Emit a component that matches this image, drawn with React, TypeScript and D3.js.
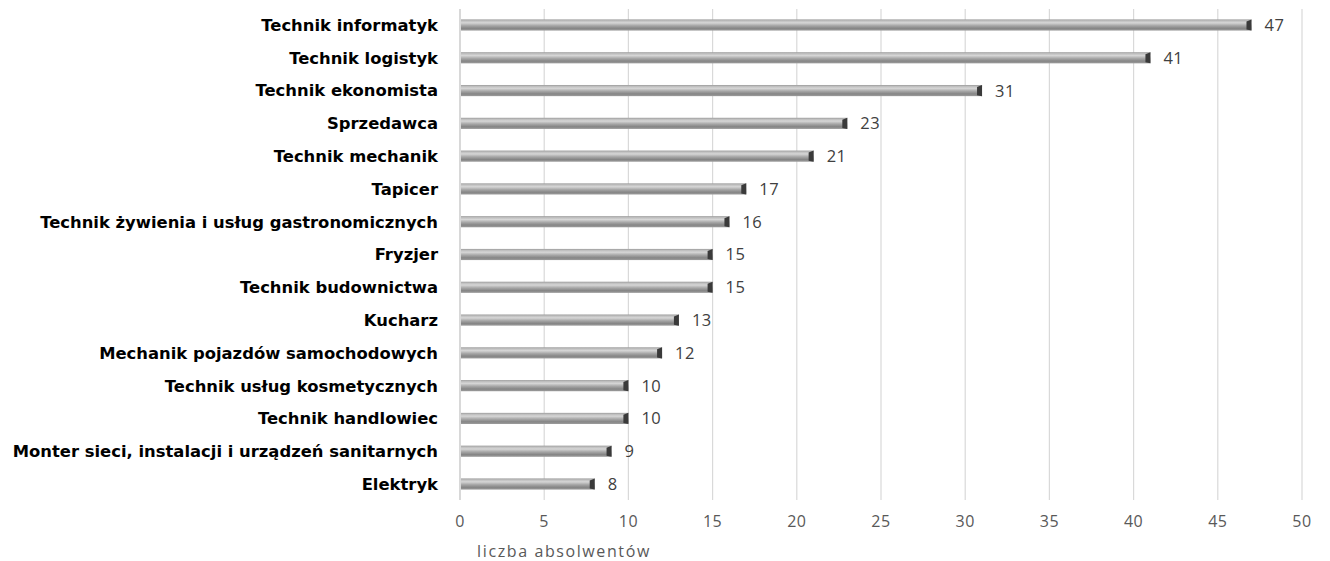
import React, { useEffect, useRef } from 'react';
import * as d3 from 'd3';

const categories = [
  'Technik informatyk',
  'Technik logistyk',
  'Technik ekonomista',
  'Sprzedawca',
  'Technik mechanik',
  'Tapicer',
  'Technik żywienia i usług gastronomicznych',
  'Fryzjer',
  'Technik budownictwa',
  'Kucharz',
  'Mechanik pojazdów samochodowych',
  'Technik usług kosmetycznych',
  'Technik handlowiec',
  'Monter sieci, instalacji i urządzeń sanitarnych',
  'Elektryk',
];
const values = [47, 41, 31, 23, 21, 17, 16, 15, 15, 13, 12, 10, 10, 9, 8];
const xTicks = [0, 5, 10, 15, 20, 25, 30, 35, 40, 45, 50];
const axisTitle = 'liczba absolwentów';

const W = 1330;
const H = 561;

const App: React.FC = () => {
  const svgRef = useRef<SVGSVGElement>(null);

  useEffect(() => {
    if (!svgRef.current) return;
    const svg = d3.select(svgRef.current);
    svg.selectAll('*').remove();

    const x = d3.scaleLinear().domain([0, 50]).range([460, 1302]);
    const y = d3.scaleBand<string>().domain(categories).range([8.6, 500.4]).paddingInner(0.66).paddingOuter(0.33);

    const defs = svg.append('defs');
    const grad = defs.append('linearGradient')
      .attr('id', 'barGrad')
      .attr('x1', 0).attr('y1', 0).attr('x2', 0).attr('y2', 1);
    [
      ['0%', '#9a9a9a'],
      ['12%', '#bdbdbd'],
      ['30%', '#d6d6d6'],
      ['55%', '#a8a8a8'],
      ['80%', '#858585'],
      ['100%', '#9c9c9c'],
    ].forEach(([o, c]) => grad.append('stop').attr('offset', o).attr('stop-color', c));

    // gridlines
    svg.append('g')
      .selectAll('line')
      .data(xTicks)
      .join('line')
      .attr('x1', d => x(d)).attr('x2', d => x(d))
      .attr('y1', 9).attr('y2', 500)
      .attr('stroke', d => (d === 0 ? '#bfbfbf' : '#d9d9d9'))
      .attr('stroke-width', 1.2);

    // tick labels
    svg.append('g')
      .selectAll('text')
      .data(xTicks)
      .join('text')
      .attr('x', d => x(d))
      .attr('y', 527)
      .attr('text-anchor', 'middle')
      .attr('font-family', 'Open Sans, sans-serif')
      .attr('font-size', 16)
      .attr('letter-spacing', 0.5)
      .attr('fill', '#595959')
      .text(d => d);

    svg.append('text')
      .attr('x', 564)
      .attr('y', 557)
      .attr('text-anchor', 'middle')
      .attr('font-family', 'Open Sans, sans-serif')
      .attr('font-size', 16)
      .attr('letter-spacing', 1.6)
      .attr('fill', '#595959')
      .text(axisTitle);

    const bw = y.bandwidth();
    const bars = svg.append('g')
      .selectAll('g')
      .data(categories)
      .join('g');

    bars.append('rect')
      .attr('x', x(0) + 1)
      .attr('y', d => y(d)!)
      .attr('width', (d, i) => x(values[i]) - x(0) - 1)
      .attr('height', bw)
      .attr('fill', 'url(#barGrad)');

    // dark end cap
    bars.append('path')
      .attr('d', (d, i) => {
        const xe = x(values[i]);
        const y0 = y(d)!;
        return `M${xe - 5},${y0 + 2}L${xe},${y0}L${xe},${y0 + bw}L${xe - 5},${y0 + bw - 1}Z`;
      })
      .attr('fill', '#3a3a3a');

    bars.append('text')
      .attr('x', (d, i) => x(values[i]) + 13)
      .attr('y', d => y(d)! + bw / 2)
      .attr('dy', '0.36em')
      .attr('font-family', 'Open Sans, sans-serif')
      .attr('font-size', 16.5)
      .attr('letter-spacing', 0.5)
      .attr('fill', '#404040')
      .text((d, i) => values[i]);

    // category labels
    svg.append('g')
      .selectAll('text')
      .data(categories)
      .join('text')
      .attr('x', 438)
      .attr('y', d => y(d)! + bw / 2)
      .attr('dy', '0.36em')
      .attr('text-anchor', 'end')
      .attr('font-family', 'DejaVu Sans, sans-serif')
      .attr('font-weight', 'bold')
      .attr('font-size', 16.4)
      .attr('fill', '#000')
      .text(d => d);
  }, []);

  return (
    <svg
      ref={svgRef}
      width={W}
      height={H}
      style={{ position: 'absolute', left: 0, top: 0, background: '#fff' }}
    />
  );
};

export default App;
